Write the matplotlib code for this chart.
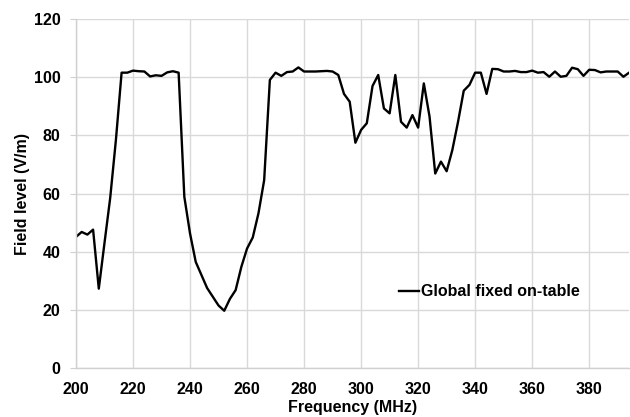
import matplotlib.pyplot as plt

plt.rcParams['font.family'] = ['Liberation Sans', 'DejaVu Sans']
plt.rcParams['font.weight'] = 'bold'

# frequency (MHz) and measured field level (V/m)
freq = list(range(200, 396, 2))
field = [45.1, 46.8, 45.9, 47.6, 27.3, 43.0, 58.5, 78.4, 101.6, 101.6,
         102.3, 102.1, 102.0, 100.3, 100.7, 100.5, 101.7, 102.1, 101.6, 58.9,
         46.3, 36.5, 32.0, 27.5, 24.5, 21.5, 19.7, 23.8, 26.8, 34.8,
         41.1, 44.9, 53.2, 64.6, 99.1, 101.6, 100.5, 101.8, 102.0, 103.4,
         102.0, 102.0, 102.0, 102.1, 102.2, 102.0, 100.8, 94.3, 91.6, 77.5,
         81.9, 84.2, 97.0, 100.8, 89.3, 87.6, 100.8, 84.7, 82.7, 87.0,
         82.7, 97.9, 86.5, 66.9, 71.0, 67.7, 75.0, 84.7, 95.4, 97.4,
         101.6, 101.6, 94.3, 102.9, 102.8, 102.0, 102.0, 102.2, 101.8, 101.8,
         102.3, 101.6, 101.8, 100.2, 102.0, 100.2, 100.5, 103.3, 102.8, 100.5,
         102.6, 102.5, 101.7, 102.0, 102.0, 102.0, 100.2, 101.6]

xticks = list(range(200, 400, 20))
yticks = list(range(0, 121, 20))

fig = plt.figure(figsize=(6.3, 4.17), dpi=100)
ax = fig.add_axes([0.1206, 0.1175, 0.878, 0.8365])

ax.plot(freq, field, color='black', linewidth=1.7, label='Global fixed on-table')

ax.set_xlim(200, 394)
ax.set_ylim(0, 120)
ax.set_xticks(xticks)
ax.set_yticks(yticks)
ax.grid(True, color='#d9d9d9', linewidth=1)
ax.set_axisbelow(True)

for s in ['top', 'right']:
    ax.spines[s].set_visible(False)
for s in ['left', 'bottom']:
    ax.spines[s].set_color('#d0d0d0')
    ax.spines[s].set_linewidth(1)

ax.tick_params(axis='y', length=4, color='#d0d0d0', labelsize=11.5, pad=7)
ax.tick_params(axis='x', length=0, labelsize=11.5, pad=10)

ax.set_xlabel('Frequency (MHz)', fontsize=11.5, fontweight='bold', labelpad=2)
ax.set_ylabel('Field level (V/m)', fontsize=11.5, fontweight='bold', labelpad=3)

ax.legend(loc='center left', bbox_to_anchor=(0.5695, 0.218), frameon=False,
          fontsize=11.5, handlelength=1.25, handletextpad=0.15, borderpad=0)

fig.savefig('out.png', dpi=100)
